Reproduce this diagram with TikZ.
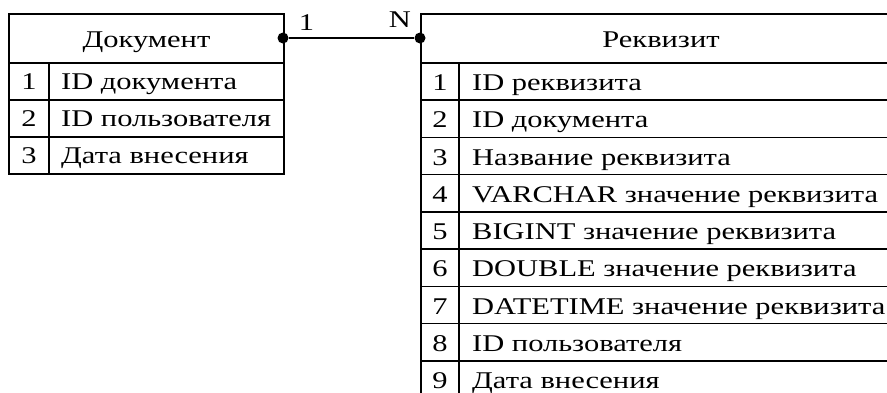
\documentclass[tikz,border=0pt]{standalone}
\usepackage{fontspec}
\setmainfont{Liberation Serif}[FakeStretch=1.27]
\begin{document}
\begin{tikzpicture}[x=1pt,y=-1pt,
  cell/.style={draw, line width=1.6pt, rectangle, inner sep=0pt, anchor=north west},
  txt/.style={font=\fontsize{24}{28}\selectfont, inner sep=0pt},
  enddot/.style={circle, fill, inner sep=0pt, minimum size=11pt},
  link/.style={line width=1.6pt}]
\useasboundingbox (0,0) rectangle (887,392);
\clip (0,0) rectangle (887,392);

% Entity "Документ"
\node[cell, minimum width=275pt, minimum height=49pt] (doc-head) at (8,13) {};
\node[txt, anchor=base] (doc-title) at (146.5,47) {Документ};
\foreach \i/\t in {1/ID документа, 2/ID пользователя, 3/Дата внесения} {
  \pgfmathsetmacro\rowtop{62+37*(\i-1)}
  \node[cell, minimum width=40pt, minimum height=37pt] (doc-n\i) at (8,\rowtop) {};
  \node[cell, minimum width=235pt, minimum height=37pt] (doc-f\i) at (48,\rowtop) {};
  \node[txt, anchor=base] (doc-num\i) at (29,\rowtop+27.8) {\i};
  \node[txt, anchor=base west] (doc-txt\i) at (61,\rowtop+27.8) {\t};
}

% Entity "Реквизит"
\node[cell, minimum width=482pt, minimum height=49pt] (attr-head) at (420,13) {};
\node[txt, anchor=base] (attr-title) at (661,47) {Реквизит};
\foreach \i/\t in {1/ID реквизита, 2/ID документа, 3/Название реквизита,
                   4/VARCHAR значение реквизита, 5/BIGINT значение реквизита,
                   6/DOUBLE значение реквизита, 7/DATETIME значение реквизита,
                   8/ID пользователя, 9/Дата внесения} {
  \pgfmathsetmacro\rowtop{62+37.25*(\i-1)}
  \node[cell, minimum width=38pt, minimum height=37.25pt] (attr-n\i) at (420,\rowtop) {};
  \node[cell, minimum width=444pt, minimum height=37.25pt] (attr-f\i) at (458,\rowtop) {};
  \node[txt, anchor=base] (attr-num\i) at (440,\rowtop+28.5) {\i};
  \node[txt, anchor=base west] (attr-txt\i) at (472,\rowtop+28.5) {\t};
}

% One-to-many relationship
\node[enddot] (end-one) at (283,38) {};
\node[enddot] (end-many) at (420,38) {};
\draw[link] (end-one) -- (end-many);
\node[txt] (card-one) at (306.5,23) {1};
\node[txt] (card-many) at (400,20) {N};
\end{tikzpicture}
\end{document}
